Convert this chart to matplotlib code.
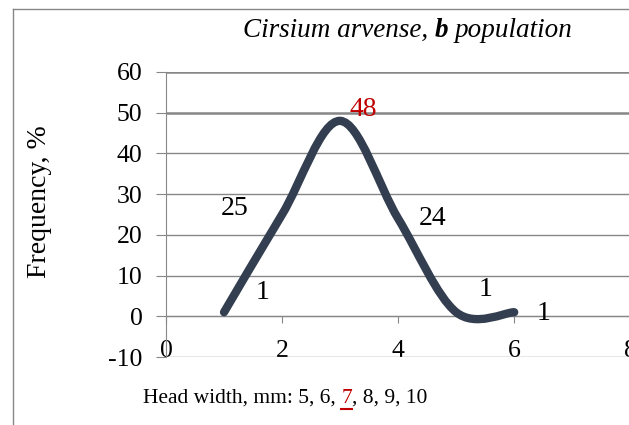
import numpy as np
import matplotlib
matplotlib.use('Agg')
import matplotlib.pyplot as plt
from matplotlib.path import Path
from matplotlib.patches import PathPatch
from matplotlib.lines import Line2D

plt.rcParams['font.family'] = 'Liberation Serif'
plt.rcParams['axes.unicode_minus'] = False

# data
xs = [1, 2, 3, 4, 5, 6]
freq = [1, 25, 48, 24, 1, 1]
labels = ['1', '25', '48', '24', '1', '1']
label_colors = ['black', 'black', '#C00000', 'black', 'black', 'black']
yticks = [-10, 0, 10, 20, 30, 40, 50, 60]
xticks = [0, 2, 4, 6, 8]
title_parts = ['Cirsium arvense,', 'b', 'population']
xlab_parts = ['Head width, mm: 5, 6,', '7', ', 8, 9, 10']

# label offsets in points (style)
lab_off = [(28, 14), (-34, 4), (17, 8), (25, 0), (21, 16), (21, -1)]

fig = plt.figure(figsize=(6.29, 4.25), dpi=100)
ax = fig.add_axes([166/629, 68/425, 1.0 - 166/629 + 0.002, (357-72)/425])

# excel-like smoothed line (bezier through points)
P = np.column_stack([xs, freq]).astype(float)
n = len(P)
verts = [P[0]]
codes = [Path.MOVETO]
for i in range(n-1):
    p0 = P[max(i-1, 0)]
    p1 = P[i]
    p2 = P[i+1]
    p3 = P[min(i+2, n-1)]
    c1 = p1 + (p2 - p0)/6.0
    c2 = p2 - (p3 - p1)/6.0
    verts += [c1, c2, p2]
    codes += [Path.CURVE4]*3
patch = PathPatch(Path(verts, codes), facecolor='none', edgecolor='#333F50',
                  lw=6, capstyle='round', joinstyle='round', zorder=3)
ax.add_patch(patch)

for x, y, s, c, off in zip(xs, freq, labels, label_colors, lab_off):
    ax.annotate(s, (x, y), xytext=off, textcoords='offset points',
                ha='center', va='center', fontsize=20, color=c, zorder=4)

ax.set_xlim(0, 8)
ax.set_ylim(-10, 60)
ax.set_yticks(yticks)
ax.set_xticks(xticks)
ax.yaxis.grid(True, color='#878787', lw=1)
for gl, v in zip(ax.yaxis.get_gridlines(), yticks):
    if v >= 50:
        gl.set_linewidth(1.8)
ax.spines['top'].set_visible(False)
ax.spines['right'].set_visible(False)
ax.spines['left'].set_color('#878787')
ax.spines['bottom'].set_color('#878787')
ax.spines['bottom'].set_position(('data', 0))
ax.tick_params(axis='y', length=7, color='#878787', pad=10, labelsize=18.5)
ax.tick_params(axis='x', length=5, color='#878787', pad=12, labelsize=18.5)
ax.set_facecolor('none')

fig.text(40/629, 0.525, 'Frequency, %', rotation=90, fontsize=20,
         ha='center', va='center')

# title in pieces
t1 = fig.text(243/629, 0.913, title_parts[0], fontsize=19.5, style='italic', va='baseline')
t2 = plt.annotate(title_parts[1], xy=(1, 0.913), xycoords=(t1, 'figure fraction'),
                  xytext=(4.5, 0), textcoords='offset points', va='baseline',
                  fontsize=19.5, style='italic', weight='bold', annotation_clip=False)
t3 = plt.annotate(title_parts[2], xy=(1, 0.913), xycoords=(t2, 'figure fraction'),
                  xytext=(4.5, 0), textcoords='offset points', va='baseline',
                  fontsize=19.5, style='italic', annotation_clip=False)

# x label in pieces
yb = 1 - 403/425
x1 = fig.text(143/629, yb, xlab_parts[0], fontsize=15.5, va='baseline')
x2 = plt.annotate(xlab_parts[1], xy=(1, yb), xycoords=(x1, 'figure fraction'),
                  xytext=(4, 0), textcoords='offset points', va='baseline',
                  fontsize=15.5, color='#C00000', annotation_clip=False)
x3 = plt.annotate(xlab_parts[2], xy=(1, yb), xycoords=(x2, 'figure fraction'),
                  va='baseline', fontsize=15.5, annotation_clip=False)

# chart border
fig.add_artist(Line2D([13/629, 13/629], [0, 1 - 9/425], color='#878787', lw=1))
fig.add_artist(Line2D([13/629, 1], [1 - 9/425, 1 - 9/425], color='#878787', lw=1))

fig.canvas.draw()
bb = x2.get_window_extent()
fig.add_artist(Line2D([bb.x0, bb.x1], [bb.y0 - 1, bb.y0 - 1], transform=None,
                      color='#C00000', lw=1.5))

fig.savefig('out.png', dpi=100)
